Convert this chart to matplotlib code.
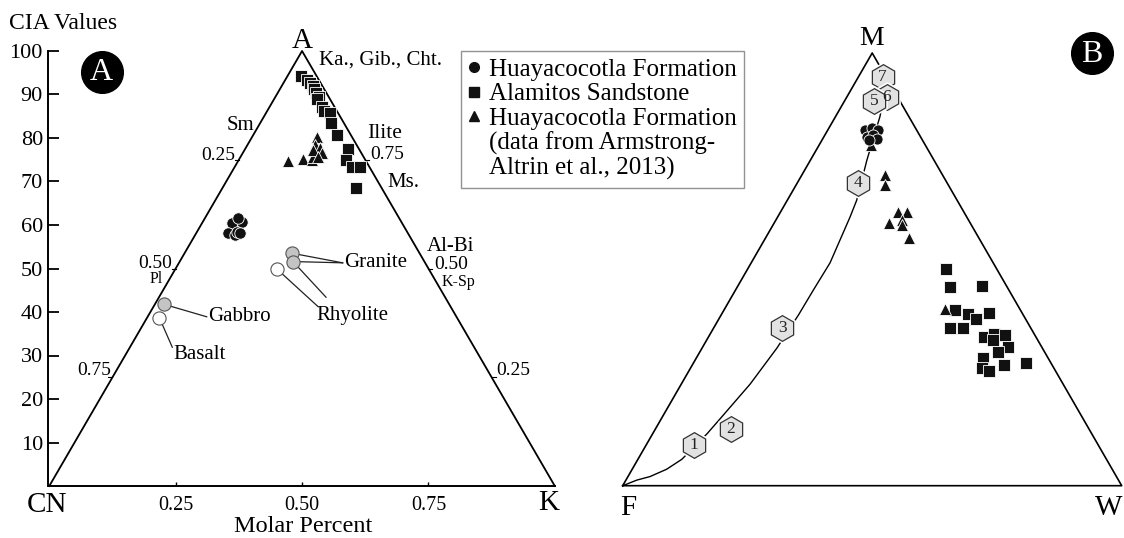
import numpy as np
import matplotlib
matplotlib.use("Agg")
import matplotlib.pyplot as plt
from matplotlib.lines import Line2D

plt.rcParams['font.family'] = ['Liberation Serif', 'DejaVu Serif']

# ---------------- DATA ----------------
# Panel A: A-CN-K ternary, molar %, CIA (=A) and K
huay_A_cia = [60.4, 60.8, 61.5, 58.1, 57.7, 58.5, 58.1]
huay_A_k = [5.9, 7.7, 6.65, 6.35, 7.85, 7.85, 8.65]
alam_A_cia = [94.3, 93.3, 92.7, 92.0, 91.2, 90.3, 89.5, 88.9, 87.2, 86.3, 85.7,
              83.4, 80.7, 77.4, 74.9, 73.4, 73.4, 68.6]
alam_A_k = [2.6, 4.4, 5.3, 6.1, 6.8, 7.7, 8.7, 8.5, 10.3, 11.2, 12.6,
            14.0, 16.6, 20.4, 21.3, 23.1, 24.8, 26.4]
arm_A_cia = [74.6, 75.1, 74.9, 75.7, 80.3, 78.4, 77.6, 76.5, 77.2, 75.7, 59.2]
arm_A_k = [10.0, 12.7, 14.5, 14.3, 12.8, 13.4, 14.8, 15.7, 13.6, 15.4, 7.1]

rock_names = ['Gabbro', 'Basalt', 'Granite', 'Granite', 'Rhyolite']
rock_cia = [41.8, 38.6, 53.5, 51.6, 49.8]
rock_k = [1.7, 2.5, 21.3, 22.4, 20.2]
rock_fill = ['#c4c4c4', 'white', '#c4c4c4', '#c4c4c4', 'white']

cia_ticks = [10, 20, 30, 40, 50, 60, 70, 80, 90, 100]
molar_ticks = [0.25, 0.50, 0.75]
molar_labels = ['0.25', '0.50', '0.75']

# Panel B: M-F-W ternary, %, M and W
huay_B_m = [82.2, 82.6, 82.2, 80.7, 81.1, 80.1, 79.9]
huay_B_w = [7.5, 8.6, 10.1, 8.6, 9.7, 10.9, 9.5]
alam_B_m = [50.0, 46.0, 46.2, 40.6, 39.7, 38.6, 39.8, 36.5, 36.4, 34.4, 35.1,
            34.8, 33.7, 32.1, 30.8, 29.6, 27.1, 26.4, 27.9, 28.4]
alam_B_w = [39.8, 42.5, 48.9, 46.2, 49.4, 51.5, 53.6, 47.3, 49.9, 55.2, 56.9,
            59.2, 57.4, 61.2, 59.9, 57.5, 58.4, 60.3, 62.5, 66.6]
arm_B_m = [71.8, 69.5, 63.3, 63.3, 60.6, 61.4, 60.3, 57.2, 40.8, 78.7]
arm_B_w = [16.7, 17.8, 23.6, 25.3, 23.1, 25.2, 25.8, 28.8, 44.2, 10.5]

trend_labels = ['7', '6', '5', '4', '3', '2', '1']
trend_m = [94.4, 89.8, 88.8, 70.0, 36.5, 13.0, 9.4]
trend_w = [4.9, 8.0, 6.0, 12.1, 13.7, 15.2, 9.5]

curve_m = [0, 1.3, 2.1, 3.8, 6.1, 12.0, 16.3, 23.5, 31.8, 39.5, 45.2, 51.5,
           62.2, 66.0, 75.3, 85.3, 88.0]
curve_w = [0, 2.2, 4.4, 6.9, 8.8, 10.9, 12.0, 13.8, 15.0, 15.5, 15.6, 15.8,
           14.5, 13.9, 11.3, 8.9, 8.0]

legend_labels = ['Huayacocotla Formation', 'Alamitos Sandstone',
                 'Huayacocotla Formation', '(data from Armstrong-',
                 'Altrin et al., 2013)']


def proj_A(cia, k):
    cia = np.asarray(cia, float)
    k = np.asarray(k, float)
    return k / 100 + cia / 200, cia


def proj_B(m, w):
    m = np.asarray(m, float)
    w = np.asarray(w, float)
    return w / 100 + m / 200, m / 100


W_PX, H_PX = 1124, 538
fig = plt.figure(figsize=(W_PX / 100, H_PX / 100), dpi=100)

# ---------------- PANEL A ----------------
axA = fig.add_axes([49.3 / W_PX, (H_PX - 486) / H_PX, 505.5 / W_PX, 435 / H_PX])
axA.set_xlim(0, 1)
axA.set_ylim(0, 100)
axA.patch.set_alpha(0)
for s in ['top', 'right']:
    axA.spines[s].set_visible(False)
axA.spines['left'].set_linewidth(1.4)
axA.spines['bottom'].set_linewidth(1.4)
axA.spines['left'].set_position(('data', -0.003))
axA.set_yticks(cia_ticks)
axA.set_yticklabels([str(t) for t in cia_ticks])
axA.tick_params(axis='y', direction='in', length=8, width=1.3, pad=3.5,
                labelsize=16)
axA.set_xticks(molar_ticks)
axA.set_xticklabels(molar_labels)
axA.tick_params(axis='x', direction='in', length=3, width=1.0, pad=7,
                labelsize=14.5)

# triangle edges
axA.plot([0, 0.5, 1], [0, 100, 0], color='black', lw=1.3, clip_on=False,
         zorder=2)
for a in [25, 50, 75]:
    xl = a / 200
    xr = 1 - a / 200
    axA.plot([xl - 0.008, xl], [a, a], color='black', lw=0.8, clip_on=False)
    axA.plot([xr, xr + 0.008], [a, a], color='black', lw=0.8, clip_on=False)

mk = dict(linestyle='none', mec='white', mew=0.6, clip_on=False, zorder=5)
x, y = proj_A(alam_A_cia, alam_A_k)
axA.plot(x, y, 's', ms=8.2, color='#111111', **mk)
x, y = proj_A(arm_A_cia, arm_A_k)
axA.plot(x, y, '^', ms=8.5, color='#111111', **mk)
x, y = proj_A(huay_A_cia, huay_A_k)
axA.plot(x, y, 'o', ms=8.2, color='#111111', **mk)

rx, ry = proj_A(rock_cia, rock_k)
for xi, yi, fc in zip(rx, ry, rock_fill):
    axA.plot(xi, yi, 'o', ms=9.5, mfc=fc, mec='#555555', mew=0.8,
             linestyle='none', zorder=6)

lk = dict(color='#222222', lw=0.9, zorder=4)
axA.plot([rx[2], 0.5804], [ry[2], 51.3], **lk)
axA.plot([rx[3], 0.5804], [ry[3], 51.3], **lk)
axA.text(0.584, 51.3, 'Granite', fontsize=15, ha='left', va='center')
axA.plot([rx[4], 0.532], [ry[4], 41.2], **lk)
axA.plot([rx[3], 0.5474], [ry[3], 43.4], **lk)
axA.text(0.6002, 39.3, 'Rhyolite', fontsize=15, ha='center', va='center')
axA.plot([rx[0], 0.3114], [ry[0], 38.9], **lk)
axA.text(0.3140, 38.9, 'Gabbro', fontsize=15, ha='left', va='center')
axA.plot([rx[1], 0.2433], [ry[1], 31.9], **lk)
axA.text(0.2981, 30.3, 'Basalt', fontsize=15, ha='center', va='center')

axA.text(0.5, 102.4, 'A', fontsize=21, ha='center', va='center')
axA.text(0.534, 98.0, 'Ka., Gib., Cht.', fontsize=15, ha='left', va='center')
axA.text(-0.005, -4.4, 'CN', fontsize=21, ha='center', va='center')
axA.text(0.987, -4.0, 'K', fontsize=21, ha='center', va='center')
axA.text(0.502, -9.4, 'Molar Percent', fontsize=17.5, ha='center',
         va='center')
axA.text(0.0277, 106.3, 'CIA Values', fontsize=17, ha='center', va='center')

axA.text(0.3772, 82.8, 'Sm', fontsize=15, ha='center', va='center')
axA.text(0.367, 75.9, '0.25', fontsize=14, ha='right', va='center')
axA.text(0.243, 51.2, '0.50', fontsize=14, ha='right', va='center')
axA.text(0.2125, 47.7, 'Pl', fontsize=11.5, ha='center', va='center')
axA.text(0.123, 26.5, '0.75', fontsize=14, ha='right', va='center')

axA.text(0.628, 81.1, 'Ilite', fontsize=15.5, ha='left', va='center')
axA.text(0.634, 76.1, '0.75', fontsize=14, ha='left', va='center')
axA.text(0.669, 69.7, 'Ms.', fontsize=15, ha='left', va='center')
axA.text(0.747, 55.0, 'Al-Bi', fontsize=15, ha='left', va='center')
axA.text(0.761, 51.0, '0.50', fontsize=14, ha='left', va='center')
axA.text(0.776, 46.8, 'K-Sp', fontsize=11.5, ha='left', va='center')
axA.text(0.885, 26.5, '0.25', fontsize=14, ha='left', va='center')

axA.plot(0.1037, 95.2, 'o', ms=30, color='black', clip_on=False, zorder=7)
axA.text(0.1037, 95.0, 'A', color='white', fontsize=23, ha='center',
         va='center', zorder=8)

# legend
lh = [Line2D([], [], marker='o', ms=7, color='#111111', linestyle='none'),
      Line2D([], [], marker='s', ms=7, color='#111111', linestyle='none'),
      Line2D([], [], marker='^', ms=7.5, color='#111111', linestyle='none'),
      Line2D([], [], color='none', linestyle='none'),
      Line2D([], [], color='none', linestyle='none')]
leg = fig.legend(lh, legend_labels,
                 loc='upper left', bbox_to_anchor=(460.5 / W_PX, 1 - 51 / H_PX),
                 bbox_transform=fig.transFigure, fontsize=18, frameon=True,
                 fancybox=False, edgecolor='#777777', borderpad=0.3,
                 handlelength=0.5, handletextpad=0.33, labelspacing=0.08,
                 borderaxespad=0)
leg.get_frame().set_linewidth(1.0)

# ---------------- PANEL B ----------------
axB = fig.add_axes([622.7 / W_PX, (H_PX - 485.7) / H_PX, 499 / W_PX,
                    432.7 / H_PX])
axB.set_xlim(0, 1)
axB.set_ylim(0, 1)
axB.axis('off')
axB.plot([0, 0.5, 1, 0], [0, 1, 0, 0], color='black', lw=1.2,
         clip_on=False, zorder=1)

cx, cy = proj_B(curve_m, curve_w)
axB.plot(cx, cy, color='black', lw=1.0, clip_on=False, zorder=2)

x, y = proj_B(alam_B_m, alam_B_w)
axB.plot(x, y, 's', ms=8.8, color='#111111', **mk)
x, y = proj_B(arm_B_m, arm_B_w)
axB.plot(x, y, '^', ms=8.0, color='#111111', **mk)
x, y = proj_B(huay_B_m, huay_B_w)
axB.plot(x, y, 'o', ms=8.0, color='#111111', **mk)

hx, hy = proj_B(trend_m, trend_w)
for i, (xi, yi, lab) in enumerate(zip(hx, hy, trend_labels)):
    z = 10 + i * 2
    axB.plot(xi, yi, 'h', ms=21, color='white', linestyle='none', zorder=z,
             clip_on=False)
    axB.plot(xi, yi, 'h', ms=18.5, mfc='#e2e2e2', mec='#333333', mew=0.9,
             linestyle='none', zorder=z + 0.5, clip_on=False)
    axB.text(xi, yi, lab, fontsize=12.5, ha='center', va='center',
             color='#222222', zorder=30)

axB.text(0.499, 1.033, 'M', fontsize=20, ha='center', va='center')
axB.text(0.0112, -0.052, 'F', fontsize=21, ha='center', va='center')
axB.text(1.002, -0.0515, 'W', fontsize=21, ha='right', va='center')

axB.plot(0.940, 0.9993, 'o', ms=30, color='black', clip_on=False, zorder=7)
axB.text(0.940, 0.997, 'B', color='white', fontsize=23, ha='center',
         va='center', zorder=8)

fig.savefig('out.png', dpi=100)
